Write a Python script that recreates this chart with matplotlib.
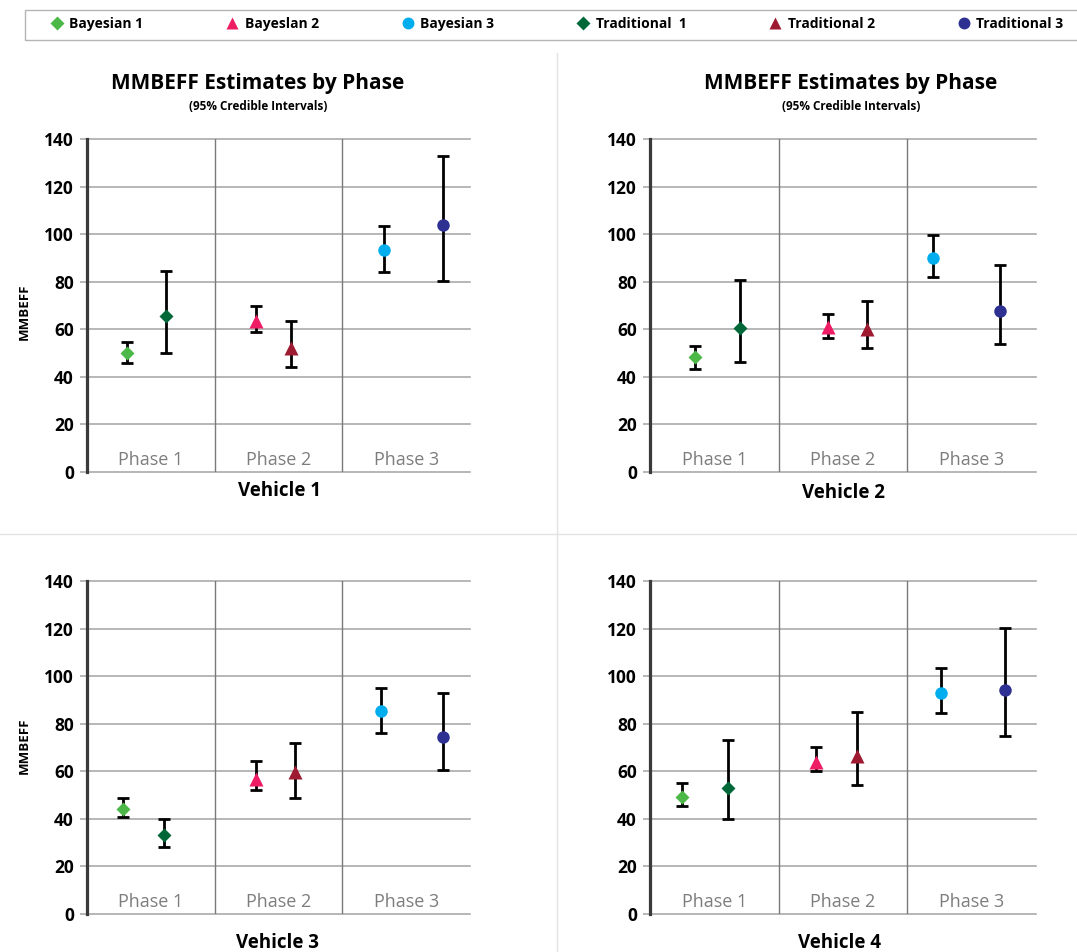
import matplotlib
matplotlib.use("Agg")
import matplotlib.pyplot as plt
from matplotlib.lines import Line2D
from matplotlib.patches import Rectangle

plt.rcParams['font.family'] = ['Open Sans', 'DejaVu Sans']

# ---------------- data ----------------
phases = ["Phase 1", "Phase 2", "Phase 3"]
vehicles = ["Vehicle 1", "Vehicle 2", "Vehicle 3", "Vehicle 4"]
bayes_names = ["Bayesian 1", "Bayeslan 2", "Bayesian 3"]
trad_names = ["Traditional  1", "Traditional 2", "Traditional 3"]

# Vehicle 1
v1_bayes_est = [50.2, 63.6, 93.2]
v1_bayes_lo = [45.7, 59.0, 84.2]
v1_bayes_hi = [54.8, 69.9, 103.3]
v1_trad_est = [65.6, 52.0, 103.7]
v1_trad_lo = [50.2, 44.0, 80.2]
v1_trad_hi = [84.6, 63.6, 133.0]
# Vehicle 2
v2_bayes_est = [48.3, 60.8, 90.1]
v2_bayes_lo = [43.4, 56.2, 81.8]
v2_bayes_hi = [53.1, 66.6, 99.8]
v2_trad_est = [60.5, 60.1, 67.7]
v2_trad_lo = [46.1, 52.0, 53.7]
v2_trad_hi = [80.6, 71.7, 87.2]
# Vehicle 3
v3_bayes_est = [44.0, 56.9, 85.5]
v3_bayes_lo = [40.9, 52.3, 76.2]
v3_bayes_hi = [48.9, 64.5, 95.2]
v3_trad_est = [33.4, 59.7, 74.3]
v3_trad_lo = [28.3, 48.9, 60.7]
v3_trad_hi = [39.9, 72.0, 92.9]
# Vehicle 4
v4_bayes_est = [49.3, 64.0, 92.8]
v4_bayes_lo = [45.5, 60.3, 84.6]
v4_bayes_hi = [55.1, 70.2, 103.6]
v4_trad_est = [52.8, 66.6, 94.0]
v4_trad_lo = [40.1, 54.2, 75.0]
v4_trad_hi = [73.2, 84.9, 120.1]

yticks = [0, 20, 40, 60, 80, 100, 120, 140]

# ---------------- styles / layout ----------------
bayes_colors = ["#4cb848", "#ee1c64", "#00adef"]
trad_colors = ["#006838", "#9d1a31", "#2e3191"]
markers = ["D", "^", "o"]
msizes = [7, 9.5, 9]

bayes_off = [[-0.19, -0.18, -0.17], [-0.15, -0.12, -0.30],
             [-0.22, -0.18, -0.20], [-0.25, -0.21, -0.24]]
trad_off = [[0.12, 0.10, 0.29], [0.20, 0.19, 0.22],
            [0.10, 0.13, 0.29], [0.11, 0.11, 0.26]]

W, H = 1077, 952
fig = plt.figure(figsize=(W / 100, H / 100), dpi=100)

def fx(px):
    return px / W

def fy(py):
    return 1 - py / H

axes_px = [(87, 470, 139, 472), (650, 1036, 139, 472),
           (87, 470, 581, 914), (650, 1036, 581, 914)]

data = [
    (v1_bayes_est, v1_bayes_lo, v1_bayes_hi, v1_trad_est, v1_trad_lo, v1_trad_hi),
    (v2_bayes_est, v2_bayes_lo, v2_bayes_hi, v2_trad_est, v2_trad_lo, v2_trad_hi),
    (v3_bayes_est, v3_bayes_lo, v3_bayes_hi, v3_trad_est, v3_trad_lo, v3_trad_hi),
    (v4_bayes_est, v4_bayes_lo, v4_bayes_hi, v4_trad_est, v4_trad_lo, v4_trad_hi),
]

grid_c = "#a3a3a3"
handles = {}
for k, (x0, x1, y0, y1) in enumerate(axes_px):
    ax = fig.add_axes([fx(x0), fy(y1), fx(x1 - x0), (y1 - y0) / H])
    ax.set_xlim(-0.5, 2.5)
    ax.set_ylim(0, 140)
    for s in ["top", "right", "bottom"]:
        ax.spines[s].set_visible(False)
    ax.spines["left"].set_color("#3a3a3a")
    ax.spines["left"].set_linewidth(2.3)
    ax.spines["left"].set_zorder(5)
    ax.set_yticks(yticks)
    ax.set_yticklabels([str(t) for t in yticks], fontsize=12.5, fontweight="bold")
    ax.tick_params(axis="y", length=5, width=1.1, color=grid_c, pad=4.5)
    ax.set_xticks([])
    for t in yticks:
        ax.axhline(t, color=grid_c, lw=1.1, zorder=1, clip_on=False)
    for b in [0.5, 1.5]:
        ax.axvline(b, color="#7a7a7a", lw=1.0, zorder=1)
    for i, p in enumerate(phases):
        ax.text(i, 3.0, p, ha="center", va="baseline", fontsize=13,
                color="#7d7d7d")
    be, bl, bh, te, tl, th = data[k]
    for i in range(3):
        # Bayesian
        xb = i + bayes_off[k][i]
        ax.errorbar([xb], [be[i]], yerr=[[be[i] - bl[i]], [bh[i] - be[i]]],
                    fmt="none", ecolor="black", elinewidth=2.0, capsize=4.5,
                    capthick=2.0, zorder=3)
        hb, = ax.plot([xb], [be[i]], linestyle="none", marker=markers[i],
                      ms=msizes[i], color=bayes_colors[i], mec="none",
                      zorder=4, label=bayes_names[i])
        # Traditional
        xt = i + trad_off[k][i]
        ax.errorbar([xt], [te[i]], yerr=[[te[i] - tl[i]], [th[i] - te[i]]],
                    fmt="none", ecolor="black", elinewidth=2.0, capsize=4.5,
                    capthick=2.0, zorder=3)
        ht, = ax.plot([xt], [te[i]], linestyle="none", marker=markers[i],
                      ms=msizes[i], color=trad_colors[i], mec="none",
                      zorder=4, label=trad_names[i])
        handles[bayes_names[i]] = hb
        handles[trad_names[i]] = ht

# titles
for cx in [258, 851]:
    fig.text(fx(cx), fy(83), "MMBEFF Estimates by Phase", ha="center",
             va="center", fontsize=15, fontweight="bold")
    fig.text(fx(cx), fy(106), "(95% Credible Intervals)", ha="center",
             va="center", fontsize=8.5, fontweight="bold")

# x labels (vehicle names)
for name, (cx, cy) in zip(vehicles, [(279, 491), (843, 493), (278, 943), (840, 943)]):
    fig.text(fx(cx), fy(cy), name, ha="center", va="center", fontsize=13.5,
             fontweight="bold")

# y labels
for cy in [312, 746]:
    fig.text(fx(24), fy(cy), "MMBEFF", ha="center", va="center", rotation=90,
             fontsize=9.5, fontweight="bold")

# panel dividers
fig.add_artist(Line2D([fx(557), fx(557)], [fy(53), 0], color="#e2e2e2", lw=1.0))
fig.add_artist(Line2D([0, 1], [fy(534), fy(534)], color="#e2e2e2", lw=1.0))

# legend frame
fig.add_artist(Rectangle((fx(25), fy(40)), fx(1080 - 25), 30 / H,
                         transform=fig.transFigure, fill=False,
                         edgecolor="#b5b5b5", lw=1.0))

order = [bayes_names[0], bayes_names[1], bayes_names[2],
         trad_names[0], trad_names[1], trad_names[2]]
leg = fig.legend([handles[n] for n in order], order, ncol=6, loc="center left",
                 bbox_to_anchor=(fx(50), fy(24)),
                 frameon=False, prop={"weight": "bold", "size": 10},
                 markerscale=0.95, handlelength=1.0, handletextpad=0.4,
                 columnspacing=5.9, borderpad=0.0, borderaxespad=0.0)

fig.savefig("out.png", dpi=100)
